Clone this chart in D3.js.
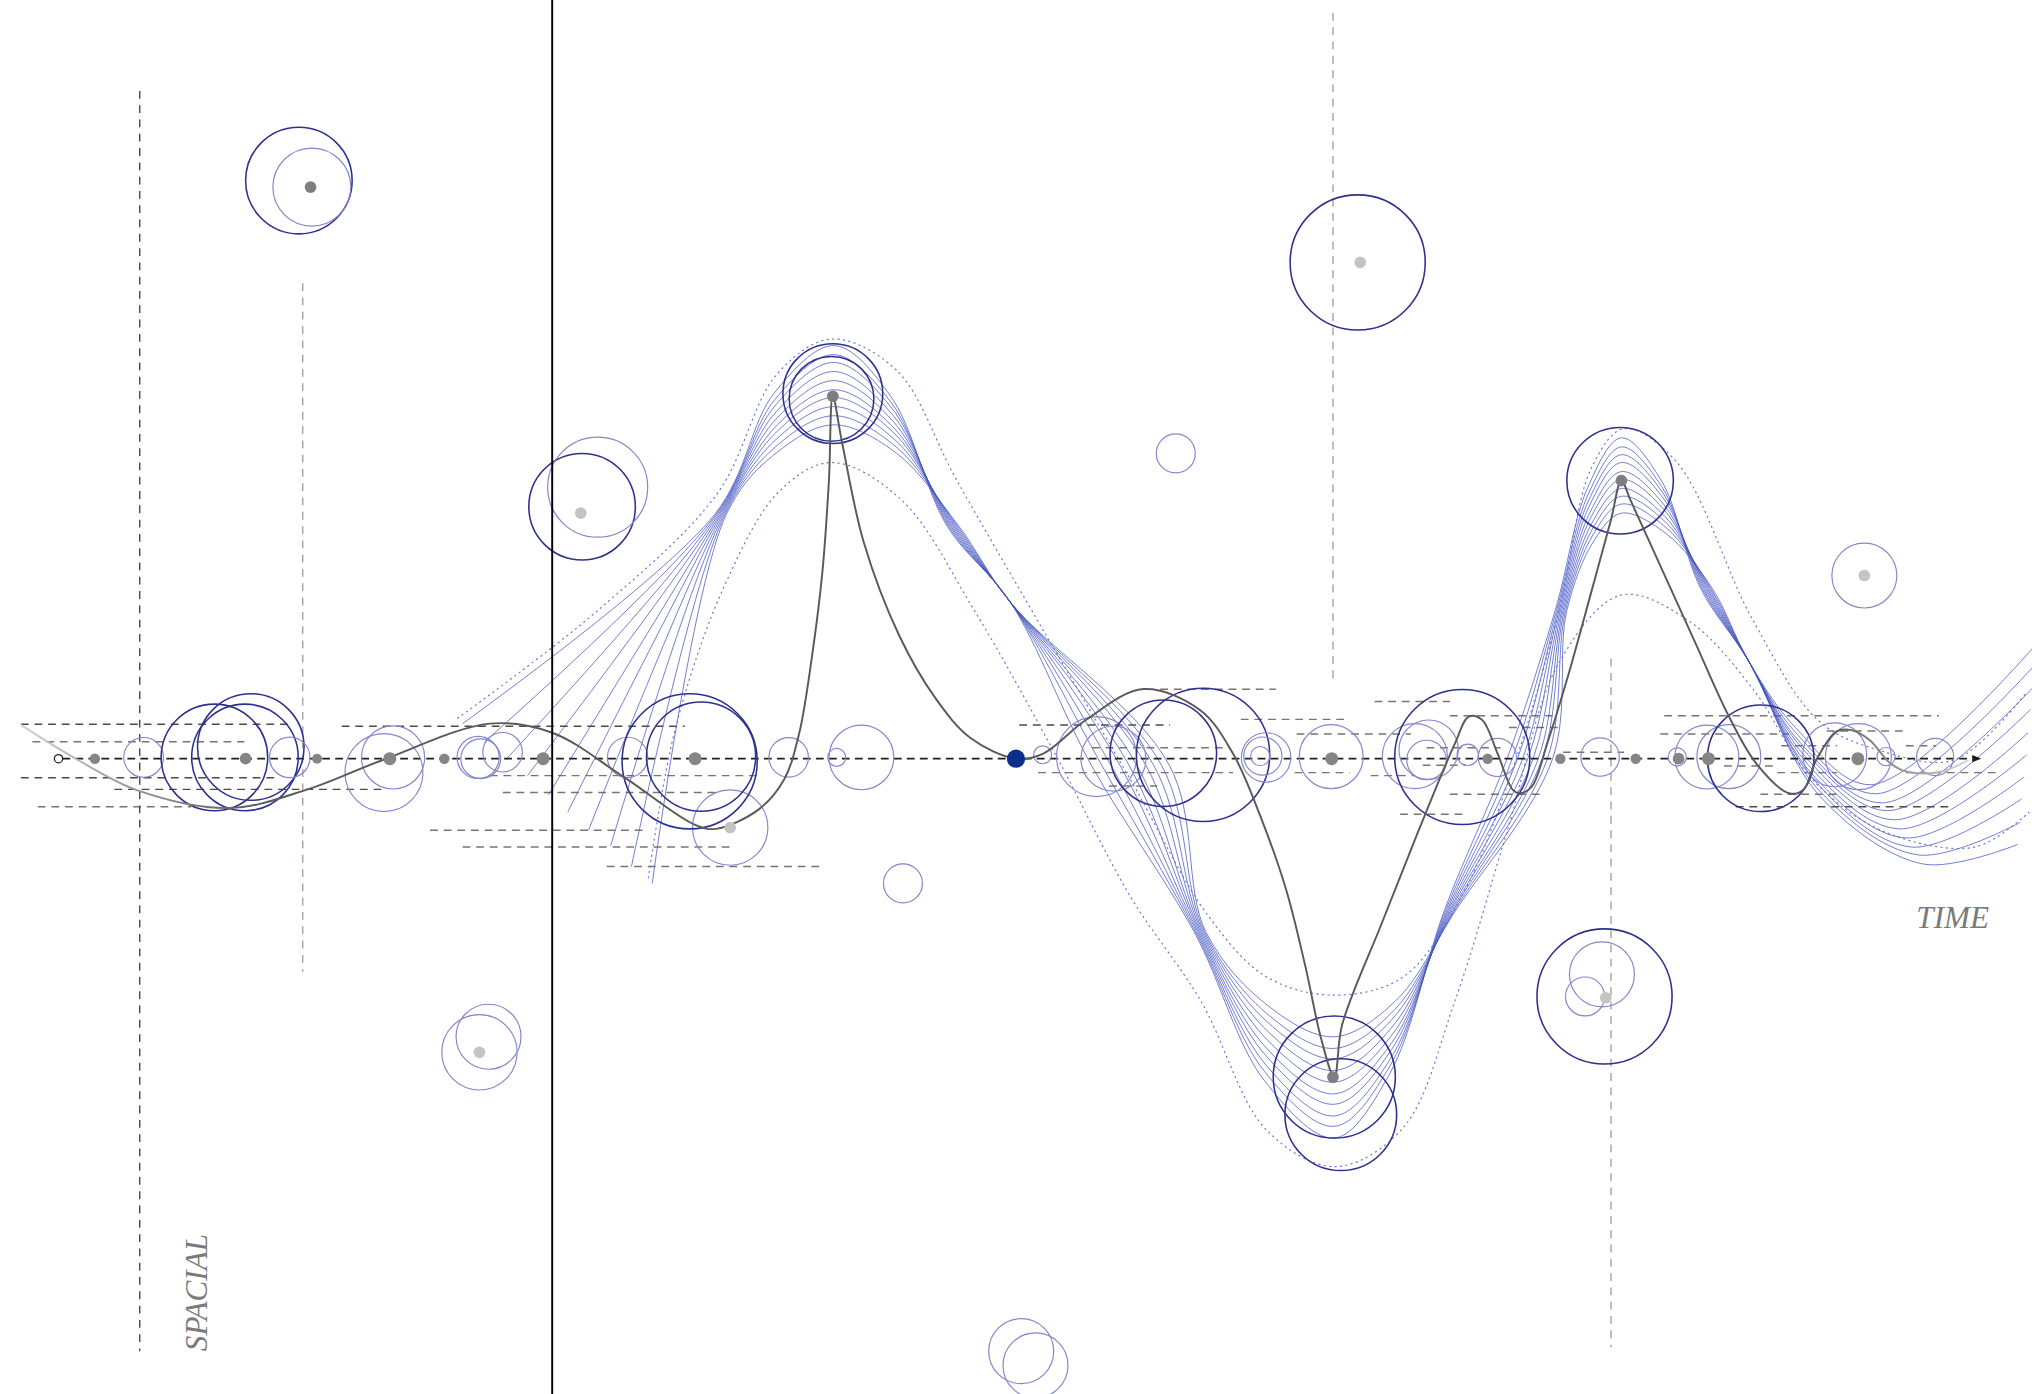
<!DOCTYPE html>
<html>
<head>
<meta charset="utf-8">
<script src="https://cdn.jsdelivr.net/npm/d3@7"></script>
<style>
  html, body { margin: 0; padding: 0; background: #fff; overflow: hidden; }
  svg { display: block; }
</style>
</head>
<body>
<div id="chart"></div>
<script>
// ---- data (time t along the axis, spacial value v across it) ----

const axisLabels = ["TIME", "SPACIAL"];

// gray markers sitting on the time axis and their weight
const markerT = [2.8, 14.4, 19.9, 25.5, 29.7, 37.3, 49.0, 98.0, 110.0, 115.6, 121.4, 124.7, 127.0, 138.5];
const markerW = [0.40, 0.45, 0.38, 0.50, 0.40, 0.50, 0.50, 0.50, 0.40, 0.40, 0.40, 0.45, 0.50, 0.50];

// the one highlighted moment
const eventT = 73.7;

// rings : [t, v, size, heavy]
const rings = [
  [18.5, 44.5, 4.1, 1], [19.5, 44.0, 3.0, 0],
  [100.0, 38.2, 5.2, 1], [86.0, 23.5, 1.5, 0],
  [40.3, 19.4, 4.1, 1], [41.5, 20.9, 3.85, 0],
  [139.0, 14.1, 2.5, 0],
  [59.6, 28.1, 3.84, 1], [59.5, 27.7, 3.26, 1],
  [120.2, 21.4, 4.1, 1],
  [98.2, -24.5, 4.7, 1], [98.7, -27.4, 4.3, 1],
  [119.0, -18.3, 5.2, 1], [118.8, -16.6, 2.5, 0], [117.5, -18.3, 1.5, 0],
  [65.0, -9.6, 1.5, 0],
  [32.4, -22.6, 2.9, 0], [33.1, -21.4, 2.5, 0],
  [74.1, -45.6, 2.5, 0], [75.2, -46.7, 2.5, 0],
  [51.7, -5.3, 2.9, 0],
  [6.55, 0.1, 1.53, 0], [12.0, 0.1, 4.1, 1], [14.35, 0.1, 4.1, 1], [14.8, 0.9, 4.1, 1],
  [17.8, 0.1, 1.56, 0], [25.05, -1.07, 3.0, 0], [25.75, 0.1, 2.43, 0],
  [32.3, 0.1, 1.62, 0], [32.5, 0, 1.53, 0], [34.18, 0.5, 1.52, 0],
  [43.8, 0.1, 1.55, 0], [48.58, -0.2, 5.2, 1], [49.46, 0.16, 4.2, 1],
  [56.2, 0.1, 1.52, 0], [59.9, 0.1, 0.69, 0], [61.8, 0.1, 2.49, 0],
  [75.75, 0.3, 0.69, 0], [79.9, 0.16, 3.08, 0], [81.2, 0, 2.5, 0],
  [85.04, 0.42, 4.1, 1], [88.1, 0.3, 5.13, 1],
  [92.5, 0.2, 0.74, 0], [92.7, 0.2, 1.47, 0], [92.95, 0.1, 1.9, 0],
  [97.96, 0.16, 2.46, 0],
  [104.4, 0.2, 2.5, 0], [105.3, -0.1, 1.52, 0], [105.46, 0.7, 2.28, 0],
  [108.05, 0.13, 5.2, 1], [108.47, 0.3, 0.82, 0], [110.76, 0.1, 1.47, 0],
  [118.66, 0.13, 1.48, 0], [124.6, 0.13, 0.7, 0],
  [126.88, 0.13, 2.46, 0], [128.57, 0.16, 2.46, 0], [131.02, 0.03, 4.1, 1],
  [136.72, 0.3, 2.46, 0], [138.54, 0.16, 2.54, 0], [140.67, 0.16, 0.7, 0], [144.45, 0.13, 1.43, 0]
];

// light centres of floating rings, and the extremes of the trajectory
const floatDots = [[40.2, 18.9], [100.2, 38.2], [139.0, 14.1], [32.4, -22.6], [51.7, -5.3], [119.1, -18.4]];
const peakDots = [[19.4, 44.0], [59.6, 27.9], [98.1, -24.5], [120.3, 21.4]];

// dashed time spans : [t0, t1, v, strong]
const spans = [
  [-2.9, 17.9, 2.65, 1], [-2.0, 14.3, 1.3, 0], [-2.9, 16.7, -1.46, 1], [4.3, 25.0, -2.36, 1], [-1.6, 10.2, -3.7, 0],
  [21.8, 48.2, 2.5, 1], [33.2, 54.1, -1.3, 0], [34.2, 50.6, -2.6, 0], [28.6, 45.0, -5.5, 0], [31.1, 52.0, -6.8, 0], [42.2, 58.6, -8.3, 0],
  [84.8, 93.7, 5.34, 0], [73.95, 85.56, 2.6, 1], [79.55, 90.14, 0.85, 0], [75.4, 90.4, -1.07, 0], [80.86, 84.56, -2.1, 0],
  [95.15, 99.4, -1.07, 0], [95.3, 104.1, 1.9, 0], [91.0, 99.1, 3.03, 0], [101.3, 107.1, 4.4, 0], [107.1, 115.0, 3.3, 0],
  [111.65, 115.6, 2.4, 0], [105.3, 111.0, 0.85, 0], [105.0, 108.3, -0.5, 0], [101.0, 104.4, -1.3, 0], [107.1, 114.15, -2.74, 0],
  [103.26, 108.4, -4.28, 0], [115.8, 120.5, 0.5, 0],
  [123.6, 144.75, 3.3, 0], [123.3, 133.2, 1.9, 0], [136.1, 142.2, 2.13, 0], [132.6, 136.9, 1.0, 0], [142.2, 144.5, 1.0, 0],
  [128.2, 132.2, -0.56, 0], [132.3, 136.9, -1.07, 0], [142.2, 149.3, -1.07, 0], [131.0, 137.0, -2.74, 0], [129.1, 145.7, -3.7, 1]
];

// vertical dashed guides : [t, v0, v1, strong]
const guides = [[6.25, 51.4, -45.6, 1], [18.8, 36.6, -16.4, 0], [98.1, 57.4, 5.8, 0], [119.5, 7.7, -45.3, 0]];

// the solid cut
const cutT = 38.0;

// main trajectory
const trajectory = [
  [-2.9, 2.6], [1.5, -0.1], [6.25, -2.5], [13.17, -3.8], [19.06, -2.4], [24.96, -0.1], [33.2, 2.7], [38.0, 2.0],
  [43.5, -1.4], [49.0, -5.1], [50.6, -5.4], [53.9, -3.9], [55.85, -1.6], [57.0, 1.9], [58.0, 7.9], [58.8, 14.4],
  [59.3, 21.4], [59.6, 27.9], [60.3, 24.4], [61.97, 16.7], [64.7, 9.5], [67.47, 4.7], [70.2, 1.6], [73.7, 0],
  [75.8, 0.4], [79.1, 3.0], [83.5, 5.36], [87.86, 3.75], [90.4, 0.4], [92.5, -4.4], [94.5, -10.1], [96.0, -16.1],
  [97.2, -21.6], [98.2, -24.5], [98.8, -20.5], [101.8, -12.8], [104.7, -5.5], [107.5, 1.2], [108.55, 3.24],
  [109.57, 3.0], [110.76, 0.42], [111.94, -2.4], [112.5, -2.66], [113.4, -2.15], [114.6, 1.2], [116.2, 6.4],
  [118.0, 12.9], [119.5, 18.4], [120.3, 21.4], [121.0, 19.9], [123.5, 14.4], [126.0, 8.9], [128.5, 3.4],
  [130.7, -0.4], [133.2, -2.66], [134.3, -2.4], [135.3, -0.1], [136.86, 2.1], [138.0, 2.2], [139.4, 1.44],
  [141.0, -0.36], [142.3, -1.0], [144.9, -1.0], [147.0, -0.1]
];

// fan of variants : one value per line
const fanStartT  = [31.1, 32.8, 34.4, 36.1, 37.7, 39.2, 40.8, 42.5, 44.1, 45.7];
const fanStartV  = [2.7, 1.3, -0.1, -1.3, -2.8, -4.1, -5.5, -6.7, -8.3, -9.6];
const fanKnot    = [-0.5, -0.4, -0.3, -0.2, -0.1, 0.0, 0.1, 0.2, 0.3, 0.4];
const fanApexA   = [31.8, 31.1, 30.5, 29.8, 29.1, 28.4, 27.8, 27.1, 26.4, 25.7];
const fanCrossAB = [79.5, 80.3, 81.0, 81.7, 82.4, 83.0, 83.7, 84.3, 84.9, 85.5];
const fanTroughB = [-29.2, -28.3, -27.5, -26.6, -25.8, -24.9, -24.0, -23.1, -22.3, -21.4];
const fanCrossBC = [111.5, 111.9, 112.3, 112.7, 113.1, 113.5, 113.9, 114.2, 114.6, 115.0];
const fanApexC   = [24.7, 24.0, 23.4, 22.8, 22.1, 21.5, 20.8, 20.2, 19.6, 18.9];
const fanDescT   = [135.5, 135.3, 135.1, 134.9, 134.7, 134.5, 134.3, 134.1, 133.9, 133.7];
const fanDescV   = [-2.8, -2.2, -1.6, -1.1, -0.5, 0.1, 0.7, 1.2, 1.8, 2.4];
const fanLowT    = [143.5, 143.1, 142.6, 142.2, 141.7, 141.3, 140.8, 140.4, 139.9, 139.5];
const fanLowV    = [-8.1, -7.4, -6.8, -6.1, -5.4, -4.7, -4.0, -3.4, -2.7, -2.0];
const fanEndT    = [150.8, 151.0, 151.1, 151.3, 151.5, 151.6, 151.8, 152.0, 152.1, 152.3];
const fanEndV    = [-6.6, -4.9, -3.1, -1.4, 0.3, 2.0, 3.8, 5.5, 7.2, 8.9];

// where the fan gathers
const pinchA1 = [51.0, 18.8], pinchA2 = [68.9, 17.9], bandAB = [73.3, 12.0];
const pinchB1 = [87.9, -13.3], pinchB2 = [107.2, -11.6];
const pinchC1 = [115.7, 11.4], pinchC2 = [126.9, 13.1], bandCD = [130.1, 7.5];
const apexAT = 59.7, troughBT = 98.2, apexCT = 120.3;

// the two dotted echoes
const echoA = [
  [30.7, 3.1], [41.5, 11.4], [50.7, 20.4], [55.3, 29.6], [59.5, 32.3], [64.5, 29.9], [69.1, 21.5], [75.5, 10.4],
  [82.5, -1.6], [88.5, -12.1], [93.0, -16.8], [98.2, -18.2], [103.5, -16.8], [108.0, -10.6], [112.0, -0.6],
  [115.5, 11.4], [118.0, 22.4], [120.5, 25.4], [124.5, 22.9], [130.4, 10.7], [135.5, 2.9], [140.0, 0.7],
  [145.9, -0.1], [151.4, 5.0]
];
const echoB = [
  [45.4, -9.2], [47.5, 2.4], [51.3, 13.4], [55.5, 20.6], [59.5, 22.8], [64.8, 20.0], [70.5, 11.4], [76.8, 0.2],
  [82.5, -10.6], [87.9, -18.6], [93.0, -28.6], [98.3, -31.4], [103.5, -28.4], [107.5, -18.6], [111.5, -5.6],
  [115.5, 7.4], [120.3, 12.6], [125.5, 10.6], [130.4, 5.4], [135.0, -1.6], [140.5, -5.6], [147.5, -6.8], [151.7, -4.1]
];

// ---- drawing ----

const W = 1564, H = 1073;
const RING_DARK = "#2c3190", RING_LIGHT = "#8287cc", FAN = "#4556c2", DUST = "#7d736b";

const x = d3.scaleLinear().domain([0, 148]).range([45, 1525]);
const y = d3.scaleLinear().domain([-50, 50]).range([1084, 84]);
const r = d3.scaleLinear().domain([0, 1]).range([0, 10]);

const svg = d3.select("#chart").append("svg")
    .attr("width", 2032)
    .attr("height", 1394)
    .attr("viewBox", `0 0 ${W} ${H}`);

const defs = svg.append("defs");
const grad = defs.append("linearGradient")
    .attr("id", "trail")
    .attr("gradientUnits", "userSpaceOnUse")
    .attr("x1", x(trajectory[0][0])).attr("x2", x(trajectory[trajectory.length - 1][0]))
    .attr("y1", 0).attr("y2", 0);
[[0, "#d2d2d2"], [0.12, "#5a5a5a"], [0.93, "#5a5a5a"], [1, "#d6d6d6"]].forEach(s =>
    grad.append("stop").attr("offset", s[0]).attr("stop-color", s[1]));

defs.append("marker")
    .attr("id", "arrow")
    .attr("viewBox", "0 0 10 10")
    .attr("refX", 0).attr("refY", 5)
    .attr("markerWidth", 7).attr("markerHeight", 7)
    .attr("markerUnits", "userSpaceOnUse")
    .attr("orient", "auto")
    .append("path")
    .attr("d", "M0,1 L10,5 L0,9 Z")
    .attr("fill", "#1a1a1a");

const smooth = d3.line()
    .x(d => x(d[0]))
    .y(d => y(d[1]))
    .curve(d3.curveCatmullRom.alpha(0.5));

// dashed spans
svg.append("g").selectAll("line").data(spans).join("line")
    .attr("x1", d => x(d[0])).attr("x2", d => x(d[1]))
    .attr("y1", d => y(d[2])).attr("y2", d => y(d[2]))
    .attr("stroke", d => d[3] ? "#4f4843" : DUST)
    .attr("stroke-width", 1.1)
    .attr("stroke-dasharray", "6,4.5");

// vertical guides
svg.append("g").selectAll("line").data(guides).join("line")
    .attr("x1", d => x(d[0])).attr("x2", d => x(d[0]))
    .attr("y1", d => y(d[1])).attr("y2", d => y(d[2]))
    .attr("stroke", d => d[3] ? "#4a4a4a" : "#a39a94")
    .attr("stroke-width", d => d[3] ? 1.1 : 1)
    .attr("stroke-dasharray", "6,5");

// fan lines
function shoulder(p, tc, vc) {
    return [(p[0] + tc) / 2, p[1] + 0.72 * (vc - p[1])];
}
function fanLine(i) {
    const k = fanKnot[i];
    const knot = p => [p[0] + k, p[1]];
    const a1 = knot(pinchA1), a2 = knot(pinchA2), b1 = knot(pinchB1), b2 = knot(pinchB2);
    const c1 = knot(pinchC1), c2 = knot(pinchC2);
    return [
        [fanStartT[i], fanStartV[i]],
        a1, shoulder(a1, apexAT, fanApexA[i]), [apexAT, fanApexA[i]], shoulder(a2, apexAT, fanApexA[i]),
        a2, bandAB,
        [fanCrossAB[i], -0.5],
        b1, shoulder(b1, troughBT, fanTroughB[i]), [troughBT, fanTroughB[i]], shoulder(b2, troughBT, fanTroughB[i]),
        b2,
        [fanCrossBC[i], 0],
        c1, shoulder(c1, apexCT, fanApexC[i]), [apexCT, fanApexC[i]], shoulder(c2, apexCT, fanApexC[i]),
        c2, bandCD,
        [fanDescT[i], fanDescV[i]], [fanLowT[i], fanLowV[i]], [fanEndT[i], fanEndV[i]]
    ];
}
svg.append("g").selectAll("path").data(d3.range(fanStartT.length).map(fanLine)).join("path")
    .attr("d", smooth)
    .attr("fill", "none")
    .attr("stroke", FAN)
    .attr("stroke-width", 0.75)
    .attr("stroke-opacity", 0.78);

// dotted echoes
svg.append("g").selectAll("path").data([echoA, echoB]).join("path")
    .attr("d", smooth)
    .attr("fill", "none")
    .attr("stroke", "#6a74d2")
    .attr("stroke-width", 0.9)
    .attr("stroke-dasharray", "1.6,2.6");

// time axis
svg.append("line")
    .attr("x1", x(0) + 3).attr("x2", x(147.3))
    .attr("y1", y(0)).attr("y2", y(0))
    .attr("stroke", "#1f1f1f")
    .attr("stroke-width", 1.4)
    .attr("stroke-dasharray", "6,4")
    .attr("marker-end", "url(#arrow)");
svg.append("circle")
    .attr("cx", x(0)).attr("cy", y(0)).attr("r", 3.2)
    .attr("fill", "#fff").attr("stroke", "#222").attr("stroke-width", 1);

// rings
svg.append("g").selectAll("circle").data(rings).join("circle")
    .attr("cx", d => x(d[0])).attr("cy", d => y(d[1])).attr("r", d => r(d[2]))
    .attr("fill", "none")
    .attr("stroke", d => d[3] ? RING_DARK : RING_LIGHT)
    .attr("stroke-width", d => d[3] ? 1.2 : 0.9);

// trajectory
svg.append("path")
    .datum(trajectory)
    .attr("d", smooth)
    .attr("fill", "none")
    .attr("stroke", "url(#trail)")
    .attr("stroke-width", 1.5);

// markers
svg.append("g").selectAll("circle").data(markerT).join("circle")
    .attr("cx", d => x(d)).attr("cy", y(0)).attr("r", (d, i) => r(markerW[i]))
    .attr("fill", "#858585");
svg.append("g").selectAll("circle").data(floatDots).join("circle")
    .attr("cx", d => x(d[0])).attr("cy", d => y(d[1])).attr("r", r(0.45))
    .attr("fill", "#c4c4c4");
svg.append("g").selectAll("circle").data(peakDots).join("circle")
    .attr("cx", d => x(d[0])).attr("cy", d => y(d[1])).attr("r", r(0.45))
    .attr("fill", "#7e7e7e");
svg.append("circle")
    .attr("cx", x(eventT)).attr("cy", y(0)).attr("r", r(0.7))
    .attr("fill", "#0d2f8c");

// solid cut
svg.append("line")
    .attr("x1", x(cutT)).attr("x2", x(cutT))
    .attr("y1", y(60)).attr("y2", y(-52))
    .attr("stroke", "#000")
    .attr("stroke-width", 1.5);

// labels
svg.append("text")
    .attr("x", x(145.8)).attr("y", y(-13.0))
    .attr("text-anchor", "middle")
    .attr("font-family", "'Liberation Serif', 'DejaVu Serif', serif")
    .attr("font-style", "italic")
    .attr("font-size", 24)
    .attr("fill", "#7a7a7a")
    .text(axisLabels[0]);
svg.append("text")
    .attr("transform", `translate(${x(11.4)},${y(-45.6)}) rotate(-90)`)
    .attr("text-anchor", "start")
    .attr("font-family", "'Liberation Serif', 'DejaVu Serif', serif")
    .attr("font-style", "italic")
    .attr("font-size", 24)
    .attr("fill", "#7a7a7a")
    .text(axisLabels[1]);
</script>
</body>
</html>
